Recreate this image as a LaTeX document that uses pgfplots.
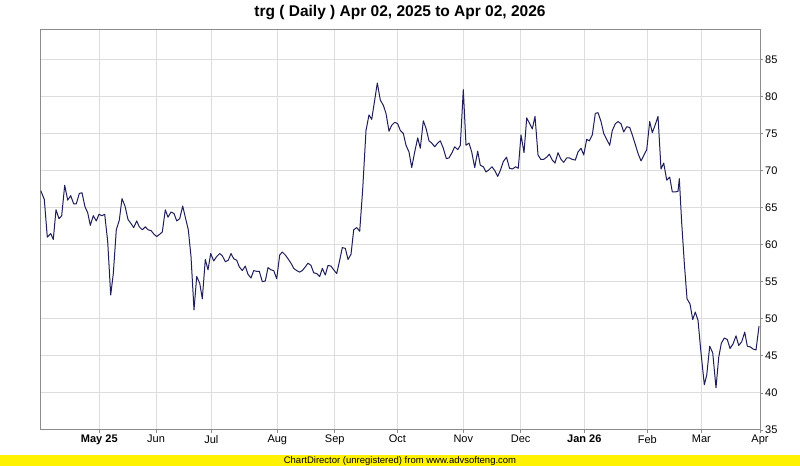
\documentclass[border=0pt]{standalone}
\usepackage{fontspec}
\setmainfont{Liberation Sans}
\usepackage{pgfplots}
\pgfplotsset{compat=1.18}
\definecolor{linecol}{RGB}{30,30,90}
\definecolor{gridcol}{RGB}{221,221,221}
\definecolor{framecol}{RGB}{140,140,140}
\begin{document}
\begin{tikzpicture}[x=1bp,y=1bp]
\path[use as bounding box] (0,0) rectangle (800,466);
\fill[white] (0,0) rectangle (800,466);
\fill[yellow] (0,0) rectangle (800,10.5);
\node[font=\fontsize{9.5bp}{10bp}\selectfont, inner sep=0pt] at (400,5.3) {ChartDirector (unregistered) from www.advsofteng.com};
\node[font=\fontsize{15.5bp}{17bp}\selectfont\bfseries, inner sep=0pt] at (400,453) {trg ( Daily ) Apr 02, 2025 to Apr 02, 2026};
\begin{axis}[
  at={(40.7bp,36bp)}, anchor=south west,
  scale only axis, width=719.3bp, height=400bp,
  xmin=40.7, xmax=760, ymin=35, ymax=88.95,
  axis line style={draw=framecol, line width=1bp},
  grid=major, major grid style={draw=gridcol, line width=1bp},
  ytick={35,40,...,85}, yticklabel pos=right, ytick pos=right,
  xtick={99.3,156,211.3,277.3,334.7,397.3,463.3,520.7,584.3,647.3,701.3,760},
  xticklabels={\textbf{May 25},Jun,Jul,Aug,Sep,Oct,Nov,Dec,\textbf{Jan 26},Feb,Mar,Apr},
  xtick pos=bottom,
  tick align=outside, major tick length=3bp,
  tick style={draw=framecol, line width=0.8bp},
  /pgf/number format/assume math mode=true,
  ticklabel style={font=\fontsize{11bp}{13bp}\selectfont, inner sep=0pt},
  yticklabel style={anchor=west, xshift=2bp},
  xticklabel style={anchor=north, yshift=-2bp},
  clip=true,
]
\addplot[linecol, line width=1bp, line join=round] coordinates {
(40.7,67.3) (44.3,66.1) (47.3,61.0) (50.7,61.5) (53.3,60.7) (56.0,64.7) (59.0,63.5) (61.7,63.9) (64.7,68.0) (67.7,66.0)
(70.7,66.6) (73.7,65.5) (76.3,65.5) (79.3,66.9) (82.0,67.0) (85.0,65.1) (87.7,64.3) (90.3,62.6) (93.3,63.9) (96.3,63.2)
(99.0,64.1) (102.0,63.9) (104.7,64.1) (107.7,60.4) (110.7,53.2) (113.3,56.1) (116.3,62.0) (119.3,63.3) (122.0,66.2) (125.0,65.2)
(128.0,63.4) (130.7,62.9) (133.7,62.3) (136.7,63.2) (139.3,62.4) (142.3,62.0) (145.3,62.4) (148.0,62.0) (151.0,61.9) (154.0,61.4)
(156.7,61.1) (159.7,61.4) (162.3,61.7) (165.3,64.7) (168.0,63.7) (171.0,64.4) (174.0,64.2) (176.7,63.2) (179.7,63.5) (182.7,65.2)
(185.3,63.7) (188.3,62.0) (191.0,58.4) (194.0,51.2) (196.7,55.7) (199.7,54.8) (202.3,52.7) (205.3,58.0) (208.0,56.6) (210.7,58.8)
(213.7,57.8) (216.7,58.4) (219.7,58.8) (222.3,58.5) (225.3,57.7) (228.3,57.9) (231.0,58.8) (233.7,58.1) (236.7,57.9) (239.3,57.0)
(242.3,56.5) (245.3,57.1) (248.0,56.0) (251.0,55.5) (253.7,56.5) (256.7,56.4) (259.3,56.4) (262.3,55.0) (265.3,55.1) (268.0,56.9)
(271.0,56.6) (273.7,56.5) (276.7,55.4) (279.7,58.6) (282.3,59.0) (285.3,58.6) (288.0,58.1) (291.0,57.5) (293.7,56.8) (296.7,56.5)
(299.7,56.3) (302.3,56.5) (305.3,57.0) (308.0,57.5) (311.0,57.2) (313.7,56.2) (316.7,56.1) (319.7,55.7) (322.3,56.8) (325.3,55.9)
(328.0,57.2) (331.0,57.1) (333.7,56.6) (336.7,56.1) (339.7,57.9) (342.3,59.6) (345.3,59.5) (348.0,58.0) (351.0,58.7) (353.7,62.0)
(356.7,62.3) (359.7,61.8) (362.7,67.5) (366.0,75.4) (369.0,77.5) (371.7,76.9) (374.7,79.5) (377.3,81.8) (380.3,79.5) (383.3,78.8)
(386.0,77.7) (389.0,75.3) (391.7,76.1) (394.7,76.5) (397.7,76.3) (400.3,75.4) (403.3,75.0) (406.0,73.4) (409.0,72.5) (411.7,70.4)
(414.7,72.5) (417.7,74.4) (420.3,73.0) (423.3,76.7) (426.0,75.7) (429.0,74.0) (431.7,73.7) (434.7,73.2) (437.7,73.7) (440.3,74.0)
(443.3,73.0) (446.3,71.6) (449.0,71.7) (452.0,72.4) (454.7,73.2) (457.7,72.8) (460.3,73.4) (463.3,80.9) (466.0,73.4) (469.0,73.7)
(471.7,72.5) (474.7,70.4) (477.7,72.6) (480.3,70.7) (483.3,70.5) (486.0,69.8) (489.0,70.1) (492.0,70.5) (494.7,70.0) (497.7,69.2)
(500.3,70.0) (503.3,71.2) (506.5,71.8) (509.5,70.3) (512.5,70.2) (515.5,70.5) (518.3,70.3) (521.0,74.8) (524.0,72.4) (526.7,77.1)
(529.7,76.3) (532.3,75.6) (535.0,77.3) (538.0,72.1) (540.7,71.5) (543.7,71.5) (546.7,71.8) (549.3,72.2) (552.3,71.4) (555.0,71.0)
(558.0,72.4) (561.0,71.5) (563.7,71.1) (566.7,71.7) (569.3,71.7) (572.3,71.5) (575.3,71.4) (578.0,72.5) (581.0,73.0) (583.7,72.1)
(586.7,74.2) (589.3,74.0) (592.3,74.8) (595.3,77.7) (598.0,77.8) (601.0,76.6) (603.7,75.0) (606.7,74.2) (609.7,73.4) (612.3,75.4)
(615.3,76.3) (618.0,76.6) (621.0,76.3) (623.7,75.2) (626.7,75.9) (629.7,75.8) (632.3,74.8) (635.3,73.5) (638.0,72.3) (641.0,71.3)
(644.0,72.1) (646.7,72.8) (649.7,76.6) (652.3,75.1) (655.3,76.2) (658.0,77.3) (661.0,70.2) (663.7,71.0) (666.7,68.7) (669.7,69.1)
(672.3,67.1) (675.3,67.1) (678.0,67.2) (679.3,68.9) (681.7,62.9) (684.3,57.5) (687.0,52.7) (690.0,52.0) (692.7,49.9) (695.3,50.9)
(698.0,49.8) (700.7,45.8) (704.3,41.1) (706.7,42.4) (709.7,46.3) (712.7,45.4) (716.0,40.7) (718.7,44.8) (721.3,46.7) (724.3,47.4)
(727.3,47.2) (730.0,46.0) (733.0,46.6) (736.0,47.7) (738.7,46.4) (741.7,46.9) (744.7,48.2) (747.3,46.3) (750.3,46.2) (753.3,45.9)
(756.0,45.8) (759.0,49.0)
};
\end{axis}
\end{tikzpicture}
\end{document}
